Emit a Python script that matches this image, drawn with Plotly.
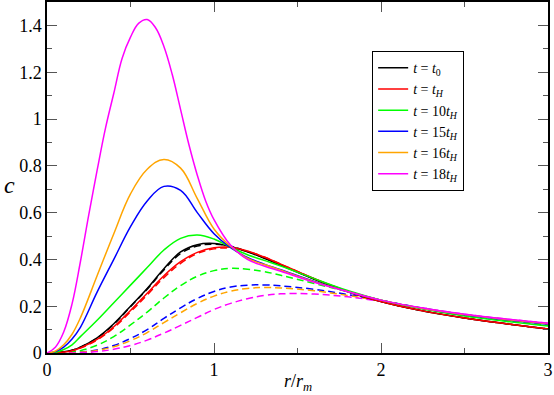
import plotly.graph_objects as go

r = [0, 0.05, 0.1, 0.15, 0.2, 0.3, 0.4, 0.5, 0.6, 0.7, 0.8, 0.9, 1.0, 1.1, 1.2,
     1.3, 1.4, 1.6, 1.8, 2.0, 2.25, 2.5, 2.75, 3.0]
# finer grid for the tall t = 18 t_H peak
r_fine = [0, 0.05, 0.1, 0.15, 0.2, 0.25, 0.3, 0.35, 0.4, 0.45, 0.5, 0.55, 0.6, 0.65, 0.7,
          0.75, 0.8, 0.85, 0.9, 0.95, 1.0, 1.1, 1.2, 1.3, 1.4, 1.6, 1.8, 2.0, 2.25, 2.5,
          2.75, 3.0]

# solid curves
c_t0 = [0, 0.001, 0.005, 0.012, 0.025, 0.065, 0.125, 0.2, 0.276, 0.36, 0.432, 0.463, 0.468,
        0.455, 0.432, 0.405, 0.375, 0.315, 0.262, 0.22, 0.18, 0.15, 0.125, 0.102]
c_tH = [0, 0.001, 0.004, 0.01, 0.022, 0.058, 0.112, 0.182, 0.255, 0.33, 0.39, 0.43, 0.45,
        0.452, 0.436, 0.41, 0.38, 0.318, 0.264, 0.22, 0.18, 0.15, 0.125, 0.102]
c_10 = [0, 0.003, 0.015, 0.035, 0.07, 0.14, 0.215, 0.29, 0.365, 0.44, 0.49, 0.504, 0.487,
        0.452, 0.42, 0.396, 0.372, 0.318, 0.267, 0.226, 0.188, 0.158, 0.135, 0.115]
c_15 = [0, 0.006, 0.025, 0.06, 0.11, 0.26, 0.4, 0.54, 0.65, 0.712, 0.695, 0.6, 0.51,
        0.45, 0.408, 0.38, 0.356, 0.306, 0.263, 0.226, 0.19, 0.163, 0.142, 0.123]
c_16 = [0, 0.008, 0.035, 0.08, 0.15, 0.33, 0.51, 0.68, 0.785, 0.827, 0.79, 0.66, 0.53,
        0.455, 0.405, 0.378, 0.354, 0.304, 0.263, 0.226, 0.19, 0.164, 0.143, 0.125]
c_18 = [0, 0.025, 0.09, 0.21, 0.39, 0.59, 0.78, 0.96, 1.11, 1.26, 1.35, 1.41, 1.425, 1.39,
        1.31, 1.19, 1.04, 0.89, 0.76, 0.65, 0.57, 0.46, 0.4, 0.372, 0.349, 0.302, 0.262,
        0.226, 0.192, 0.166, 0.145, 0.127]

# dashed curves
d_t0 = [0, 0.001, 0.005, 0.012, 0.025, 0.064, 0.123, 0.198, 0.273, 0.355, 0.425, 0.457, 0.465,
        0.456, 0.434, 0.407, 0.377, 0.317, 0.263, 0.22, 0.18, 0.15, 0.125, 0.102]
d_tH = [0, 0.001, 0.004, 0.01, 0.021, 0.056, 0.108, 0.176, 0.248, 0.322, 0.383, 0.425, 0.445,
        0.448, 0.434, 0.41, 0.38, 0.318, 0.264, 0.22, 0.18, 0.15, 0.125, 0.102]
d_10 = [0, 0, 0.002, 0.005, 0.01, 0.033, 0.07, 0.12, 0.175, 0.235, 0.288, 0.328, 0.352,
        0.362, 0.358, 0.348, 0.332, 0.297, 0.262, 0.226, 0.19, 0.16, 0.138, 0.118]
d_15 = [0, 0, 0, 0.001, 0.003, 0.013, 0.032, 0.062, 0.1, 0.148, 0.193, 0.233, 0.263,
        0.282, 0.29, 0.291, 0.287, 0.272, 0.25, 0.224, 0.192, 0.164, 0.143, 0.125]
d_16 = [0, 0, 0, 0.001, 0.003, 0.011, 0.027, 0.053, 0.087, 0.13, 0.172, 0.212, 0.243,
        0.264, 0.276, 0.28, 0.278, 0.266, 0.246, 0.222, 0.191, 0.164, 0.143, 0.125]
d_18 = [0, 0, 0, 0, 0.001, 0.006, 0.016, 0.032, 0.055, 0.085, 0.118, 0.152, 0.186,
        0.212, 0.232, 0.246, 0.253, 0.252, 0.24, 0.221, 0.192, 0.166, 0.145, 0.128]

labels = ["<i>t</i> = <i>t</i><sub>0</sub>",
          "<i>t</i> = <i>t<sub>H</sub></i>",
          "<i>t</i> = 10<i>t<sub>H</sub></i>",
          "<i>t</i> = 15<i>t<sub>H</sub></i>",
          "<i>t</i> = 16<i>t<sub>H</sub></i>",
          "<i>t</i> = 18<i>t<sub>H</sub></i>"]
colors = ["#000000", "#ff0000", "#00ff00", "#0000ff", "#ffa500", "#ff00ff"]
solid = [c_t0, c_tH, c_10, c_15, c_16, c_18]
solid_r = [r, r, r, r, r, r_fine]
dashed = [d_t0, d_tH, d_10, d_15, d_16, d_18]

fig = go.Figure()
for i in range(6):
    fig.add_trace(go.Scatter(x=r, y=dashed[i], mode="lines", showlegend=False,
                             line=dict(color=colors[i], width=1.5, dash="7px,4px",
                                       shape="spline", smoothing=1.1)))
for i in range(6):
    fig.add_trace(go.Scatter(x=solid_r[i], y=solid[i], mode="lines", name=labels[i],
                             line=dict(color=colors[i], width=1.5,
                                       shape="spline", smoothing=1.1)))

serif = "Liberation Serif, Times New Roman, DejaVu Serif, serif"
axis_common = dict(showline=True, linecolor="black", linewidth=1.5, mirror="ticks",
                   ticks="inside", ticklen=10, tickwidth=1, tickcolor="#555",
                   showgrid=False, zeroline=False, automargin=False,
                   tickfont=dict(family=serif, size=18, color="black"))

fig.update_xaxes(range=[0, 3], dtick=1, tick0=0,
                 minor=dict(ticks="inside", ticklen=5, dtick=0.5, tickcolor="#555"),
                 **axis_common)
fig.update_yaxes(range=[0, 1.5], dtick=0.2, tick0=0,
                 minor=dict(ticks="inside", ticklen=5, dtick=0.1, tickcolor="#555"),
                 **axis_common)

fig.add_annotation(text="<i>r</i>/<i>r<sub>m</sub></i>", xref="paper", yref="paper",
                   x=0.5, y=0, yshift=-16, xanchor="center", yanchor="top",
                   showarrow=False, font=dict(family=serif, size=18, color="black"))
fig.add_annotation(text="<i>c</i>", xref="paper", yref="paper",
                   x=0, y=0.48, xshift=-30, xanchor="right", yanchor="middle",
                   showarrow=False, font=dict(family=serif, size=24, color="black"))

fig.update_layout(
    width=554, height=395,
    margin=dict(l=47, r=6, t=2, b=42),
    plot_bgcolor="white", paper_bgcolor="white",
    legend=dict(x=0.649, y=0.86, xanchor="left", yanchor="top",
                bordercolor="black", borderwidth=1, bgcolor="white",
                font=dict(family=serif, size=14, color="black"),
                tracegroupgap=0, itemwidth=30),
)

fig.write_html("out.html", config={"displayModeBar": False},
               post_script="document.body.style.margin='0';")
